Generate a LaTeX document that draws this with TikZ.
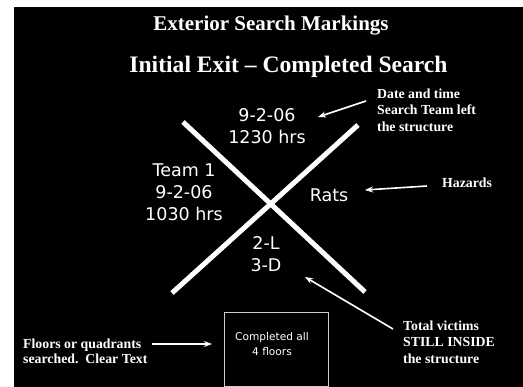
\documentclass[tikz,border=0pt]{standalone}
\usepackage{fontspec}
\setmainfont{Liberation Serif}
\newfontfamily\chalkfont{DejaVu Sans}
\usetikzlibrary{arrows.meta,positioning}
\definecolor{slideBlack}{RGB}{0,0,0}
\definecolor{boxGray}{RGB}{205,205,205}

\begin{document}
\begin{tikzpicture}[
  x=1pt, y=-1pt,
  title/.style={text=white, inner sep=0pt, anchor=base, font=\bfseries},
  note/.style={text=white, inner sep=0pt, anchor=west, align=left,
    font=\fontsize{13.8}{16.5}\selectfont\bfseries},
  chalk/.style={text=white, inner sep=0pt, align=center,
    font=\chalkfont\fontsize{17.5}{21.8}\selectfont},
  slash/.style={white, line width=5pt},
  arr/.style={-{Stealth[length=8pt, width=6pt]}, white, line width=1.6pt},
]
\useasboundingbox (0,0) rectangle (523,387);
\fill[white] (0,0) rectangle (523,387);
\fill[slideBlack] (14,7) rectangle (523,387);
% titles
\node[title, font=\fontsize{21}{25}\selectfont\bfseries] (title1) at (271,31) {Exterior Search Markings};
\node[title, font=\fontsize{23.6}{28}\selectfont\bfseries] (title2) at (288.5,73) {Initial Exit -- Completed Search};
% the X mark
\coordinate (xa) at (183,122);
\coordinate (xb) at (365,292);
\coordinate (xc) at (358,125);
\coordinate (xd) at (172,293);
\draw[slash] (xa) -- (xb);
\draw[slash] (xc) -- (xd);
% quadrant texts
\node[chalk] (exitTime) at (267,126) {9-2-06\\1230 hrs};
\node[chalk] (team) at (184,192) {Team 1\\9-2-06\\1030 hrs};
\node[chalk] (hazard) at (329,195) {Rats};
\node[chalk] (victims) at (266,254) {2-L\\3-D};
% floors box
\node[draw=boxGray, line width=0.9pt, minimum width=104pt, minimum height=74pt, inner sep=0pt] (floorbox) at (276,349) {};
\node[chalk, font=\chalkfont\fontsize{10.6}{15.5}\selectfont] (floorText) at (272,344) {Completed all\\4 floors};
% annotations
\node[note] (dateNote) at (377,110) {Date and time\\Search Team left\\the structure};
\node[note] (hazNote) at (442,183) {Hazards};
\node[note] (vicNote) at (403,342) {Total victims\\STILL INSIDE\\the structure};
\node[note, font=\fontsize{13.8}{15.5}\selectfont\bfseries] (floorNote) at (23,351.5) {Floors or quadrants\\searched.\ \ Clear Text};
% annotation arrows
\coordinate (dateTail) at (366,101);
\coordinate (dateHead) at (318,117);
\coordinate (hazTail) at (427,186);
\coordinate (hazHead) at (365,190);
\coordinate (vicTail) at (393,329);
\coordinate (vicHead) at (305,277);
\coordinate (floorTail) at (152,344);
\coordinate (floorHead) at (212,344);
\draw[arr] (dateTail) -- (dateHead);
\draw[arr] (hazTail) -- (hazHead);
\draw[arr] (vicTail) -- (vicHead);
\draw[arr] (floorTail) -- (floorHead);
\end{tikzpicture}
\end{document}
